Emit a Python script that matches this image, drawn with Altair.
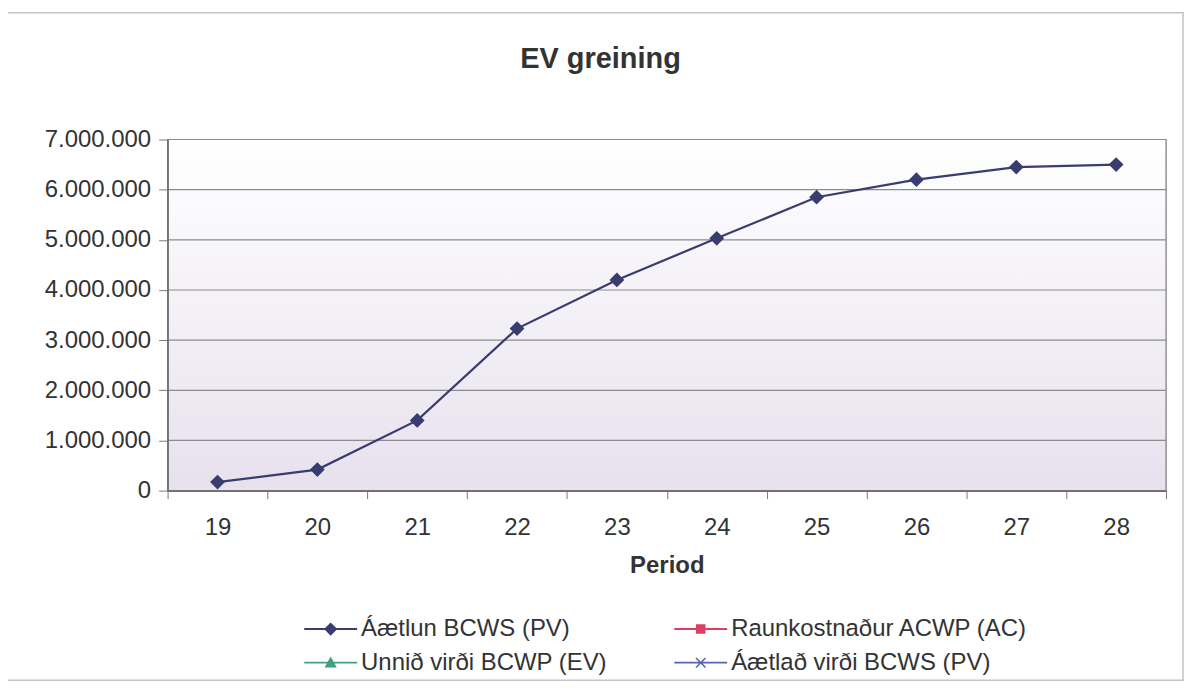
import altair as alt
import pandas as pd

# ---- data ----
periods = ["19", "20", "21", "22", "23", "24", "25", "26", "27", "28"]
pv_values = [170000, 420000, 1400000, 3230000, 4200000, 5030000, 5850000, 6200000, 6450000, 6500000]
series_names = ["Áætlun BCWS (PV)", "Raunkostnaður ACWP (AC)", "Unnið virði BCWP (EV)", "Áætlað virði BCWS (PV)"]
series_colors = ["#383c6e", "#dc3f66", "#3fa17f", "#5566b0"]
y_ticks = [0, 1000000, 2000000, 3000000, 4000000, 5000000, 6000000, 7000000]
chart_title = "EV greining"
x_title = "Period"

FONT = "Liberation Sans, Arial, sans-serif"
TXT = "#333333"
AX = "#7a7a7a"
W, H = 1001, 352

# legend symbols: line segment + marker (custom SVG paths, extend past the unit box)
LINE = "M-2,-0.07H2V0.07H-2Z "
legend_paths = [
    LINE + "M0,-0.5L0.5,0L0,0.5L-0.5,0Z",
    LINE + "M-0.36,-0.36H0.36V0.36H-0.36Z",
    LINE + "M0,-0.46L0.46,0.36H-0.46Z",
    LINE + "M-0.4,-0.32L-0.32,-0.4L0.4,0.32L0.32,0.4Z M0.32,-0.4L0.4,-0.32L-0.32,0.4L-0.4,0.32Z",
]

df = pd.DataFrame({"period": periods, "value": pv_values})
grid_df = pd.DataFrame({"value": y_ticks})
legend_df = pd.DataFrame({"period": [periods[0]] * 4, "value": [None] * 4, "series": series_names})

x_scale = alt.Scale(type="band", domain=periods, paddingInner=0, paddingOuter=0)
y_scale = alt.Scale(domain=[0, 7000000], nice=False)

x_axis = alt.Axis(
    title=x_title, titleFont=FONT, titleFontSize=24, titleFontWeight="bold", titleColor=TXT,
    titlePadding=14, labelFont=FONT, labelFontSize=24, labelColor=TXT, labelPadding=17,
    labelAngle=0, tickBand="extent", tickSize=8, tickColor=AX, domainColor="#6e6e6e",
    domainWidth=1.6, grid=False, zindex=1,
)
y_axis = alt.Axis(
    values=y_ticks, format=",d", title=None, labelFont=FONT, labelFontSize=24, labelColor=TXT,
    labelPadding=8, tickSize=9, tickColor=AX, domainColor="#6e6e6e", domainWidth=1.6,
    grid=False, zindex=1,
)

one = alt.Data(values=[{}])

frame = alt.Chart(one).mark_rect(fillOpacity=0, stroke="#c4c4c4", strokeWidth=1.5).encode(
    x=alt.value(-162), x2=alt.value(1018), y=alt.value(-127), y2=alt.value(542)
)

bg = alt.Chart(one).mark_rect(
    fill=alt.LinearGradient(
        gradient="linear",
        stops=[alt.GradientStop(color="#ffffff", offset=0), alt.GradientStop(color="#e7e1ee", offset=1)],
        x1=0, x2=0, y1=0, y2=1,
    ),
    stroke="#808080", strokeWidth=1.2,
).encode(x=alt.value(0), x2=alt.value(W), y=alt.value(0), y2=alt.value(H))

title = alt.Chart(one).mark_text(
    text=chart_title, font=FONT, fontSize=29, fontWeight="bold", color=TXT,
    align="center", baseline="alphabetic",
).encode(x=alt.value(434), y=alt.value(-72))

grid = alt.Chart(grid_df).mark_rule(color="#8c8c8c", strokeWidth=1.2).encode(
    y=alt.Y("value:Q", scale=y_scale, axis=y_axis)
)

line = alt.Chart(df).mark_line(color=series_colors[0], strokeWidth=2.2).encode(
    x=alt.X("period:O", scale=x_scale, axis=x_axis, bandPosition=0.5),
    y=alt.Y("value:Q", scale=y_scale, axis=y_axis),
)

points = alt.Chart(df).mark_point(
    shape="diamond", filled=True, size=220, color=series_colors[0], opacity=1
).encode(
    x=alt.X("period:O", scale=x_scale, axis=x_axis, bandPosition=0.5),
    y=alt.Y("value:Q", scale=y_scale, axis=y_axis),
)

legend_cfg = dict(
    title=None, orient="none", legendX=150, legendY=477, columns=2, direction="horizontal",
    labelFont=FONT, labelFontSize=24, labelColor=TXT, labelLimit=500, labelOffset=17,
    symbolSize=702, symbolStrokeWidth=0, symbolOpacity=1, columnPadding=67, rowPadding=8,
)

legend_layer = alt.Chart(legend_df).mark_point(filled=True, opacity=0).encode(
    x=alt.X("period:O", scale=x_scale, axis=x_axis, bandPosition=0.5),
    y=alt.Y("value:Q", scale=y_scale, axis=y_axis),
    color=alt.Color("series:N", scale=alt.Scale(domain=series_names, range=series_colors),
                    legend=alt.Legend(**legend_cfg)),
    shape=alt.Shape("series:N", scale=alt.Scale(domain=series_names, range=legend_paths),
                    legend=alt.Legend(**legend_cfg)),
)

chart = alt.layer(frame, bg, title, grid, line, points, legend_layer).properties(
    width=W, height=H,
    autosize=alt.AutoSizeParams(type="none"),
    padding={"left": 160, "top": 131, "right": 18, "bottom": 192},
    background="white",
).configure_view(strokeWidth=0).configure(
    locale={"number": {"decimal": ",", "thousands": ".", "grouping": [3], "currency": ["", ""]}}
)

chart.save("out.html", embed_options={"renderer": "svg", "actions": False})
